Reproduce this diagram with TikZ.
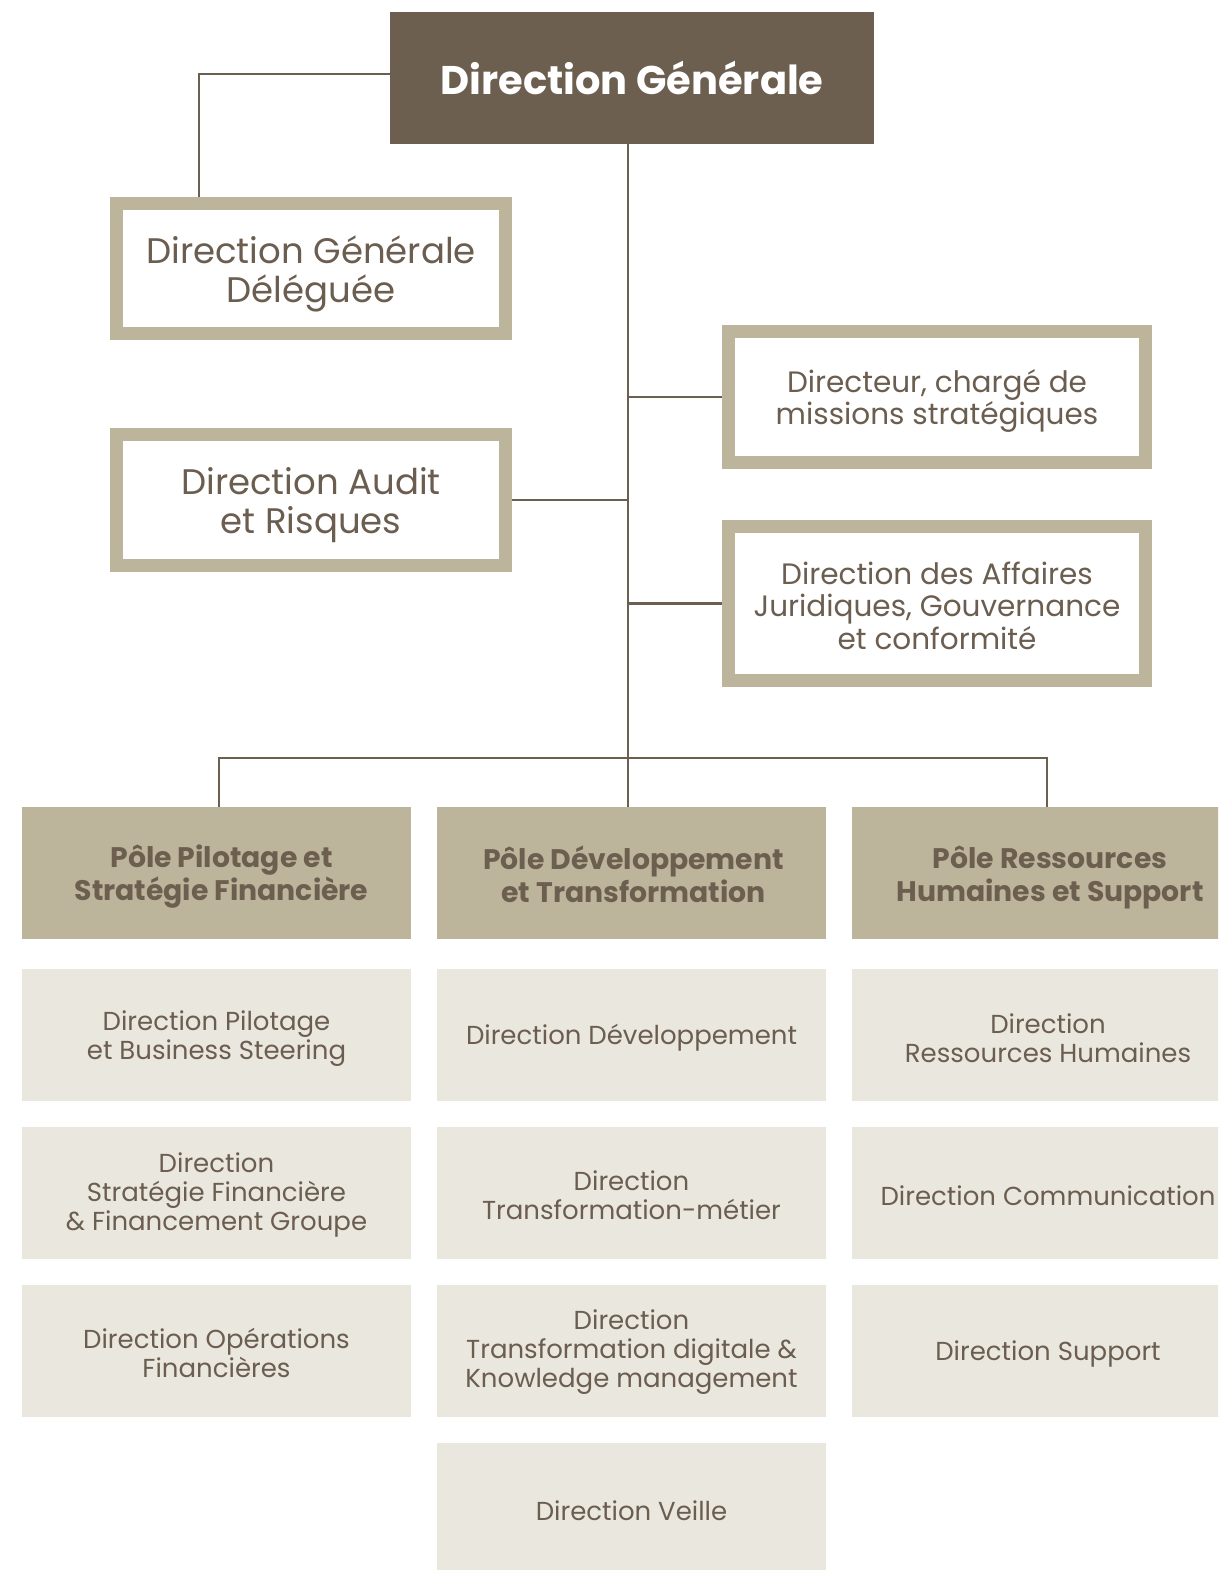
\documentclass[tikz,border=0pt]{standalone}
\usepackage{fontspec}
\setmainfont{Poppins}
\definecolor{dbrown}{HTML}{6D5F4F}
\definecolor{sand}{HTML}{BDB59B}
\definecolor{pale}{HTML}{EAE7DF}
\definecolor{txt}{HTML}{6B5E50}
\tikzset{
  conn/.style={draw=dbrown, line width=2.6pt},
  topbox/.style={fill=dbrown, text=white, minimum width=484pt, minimum height=132pt, inner sep=0pt, font=\bfseries\fontsize{40}{44}\selectfont},
  framebox/.style={draw=sand, fill=white, line width=13pt, inner sep=0pt},
  bigtxt/.style={text=txt, align=center, inner sep=0pt, font=\fontsize{35.5}{39}\selectfont},
  midtxt/.style={text=txt, align=center, inner sep=0pt, font=\fontsize{29.5}{32.5}\selectfont},
  polebox/.style={fill=sand, minimum width=389pt, minimum height=132pt, inner sep=0pt},
  poletxt/.style={text=dbrown, align=center, inner sep=0pt, font=\bfseries\fontsize{28.3}{33}\selectfont},
  subbox/.style={fill=pale, minimum width=389pt, minimum height=132pt, inner sep=0pt},
  subtxt/.style={text=txt, align=center, inner sep=0pt, font=\fontsize{26}{29}\selectfont},
}
\begin{document}
\begin{tikzpicture}[x=1pt, y=-1pt]
\useasboundingbox (0,0) rectangle (1218,1570);
\clip (0,0) rectangle (1218,1570);
% top
\node[topbox] (dg) at (632,78) {Direction Générale};
% framed boxes
\node[framebox, minimum width=389pt, minimum height=130pt] (dgd) at (311,268.5) {};
\node[bigtxt] (dgd-t) at ([yshift=-5pt]dgd.center) {Direction Générale\\Déléguée};
\node[framebox, minimum width=389pt, minimum height=131pt] (audit) at (311,500) {};
\node[bigtxt] (audit-t) at ([yshift=-5pt]audit.center) {Direction Audit\\et Risques};
\node[framebox, minimum width=417pt, minimum height=131pt] (dir) at (937,397) {};
\node[midtxt] (dir-t) at ([yshift=-4pt]dir.center) {Directeur, chargé de\\missions stratégiques};
\node[framebox, minimum width=417pt, minimum height=154pt] (jur) at (937,603.5) {};
\node[midtxt] (jur-t) at ([yshift=-2pt]jur.center) {Direction des Affaires\\Juridiques, Gouvernance\\et conformité};
% poles
\node[polebox] (p1) at (216.5,873) {};
\node[poletxt] (p1-t) at ([xshift=5pt,yshift=-4pt]p1.center) {Pôle Pilotage et\\Stratégie Financière};
\node[polebox] (p2) at (631.5,873) {};
\node[poletxt] (p2-t) at ([xshift=2pt,yshift=-1pt]p2.center) {Pôle Développement\\et Transformation};
\node[polebox] (p3) at (1046,873) {};
\node[poletxt] (p3-t) at ([xshift=4pt,yshift=-4pt]p3.center) {Pôle Ressources\\Humaines et Support};
% sub boxes
\node[subbox] (a1) at (216.5,1035) {};
\node[subtxt] (a1-t) at ([yshift=-4pt]a1.center) {Direction Pilotage\\et Business Steering};
\node[subbox] (a2) at (216.5,1193) {};
\node[subtxt] (a2-t) at ([yshift=-2pt]a2.center) {Direction\\Stratégie Financière\\\& Financement Groupe};
\node[subbox] (a3) at (216.5,1350.5) {};
\node[subtxt] (a3-t) at ([yshift=-2pt]a3.center) {Direction Opérations\\Financières};
\node[subbox] (b1) at (631.5,1035) {};
\node[subtxt] (b1-t) at ([yshift=-3pt]b1.center) {Direction Développement};
\node[subbox] (b2) at (631.5,1193) {};
\node[subtxt] (b2-t) at ([yshift=-2pt]b2.center) {Direction\\Transformation-métier};
\node[subbox] (b3) at (631.5,1350.5) {};
\node[subtxt] (b3-t) at ([yshift=-2pt]b3.center) {Direction\\Transformation digitale \&\\Knowledge management};
\node[subbox] (b4) at (631.5,1509) {};
\node[subtxt] (b4-t) at ([yshift=-2pt]b4.center) {Direction Veille};
\node[subbox] (c1) at (1046,1035) {};
\node[subtxt] (c1-t) at ([xshift=2pt,yshift=-3pt]c1.center) {Direction\\Ressources Humaines};
\node[subbox] (c2) at (1046,1193) {};
\node[subtxt] (c2-t) at ([xshift=2pt,yshift=-3pt]c2.center) {Direction Communication};
\node[subbox] (c3) at (1046,1350.5) {};
\node[subtxt] (c3-t) at ([xshift=2pt,yshift=-3pt]c3.center) {Direction Support};
% connectors
\coordinate (tr) at (628,758);
\draw[conn] ([yshift=4pt]dg.west) -| ([xshift=-112pt]dgd.north);
\draw[conn] (dg.south -| tr) -- (tr);
\draw[conn] (dir.west -| tr) -- (dir.west);
\draw[conn] (audit.east) -- (audit.east -| tr);
\draw[conn] (jur.west -| tr) -- (jur.west);
\draw[conn] ([xshift=2.5pt]p1.north) |- (tr) -| ([xshift=1pt]p3.north);
\draw[conn] (tr) -- (tr |- p2.north);
\end{tikzpicture}
\end{document}
